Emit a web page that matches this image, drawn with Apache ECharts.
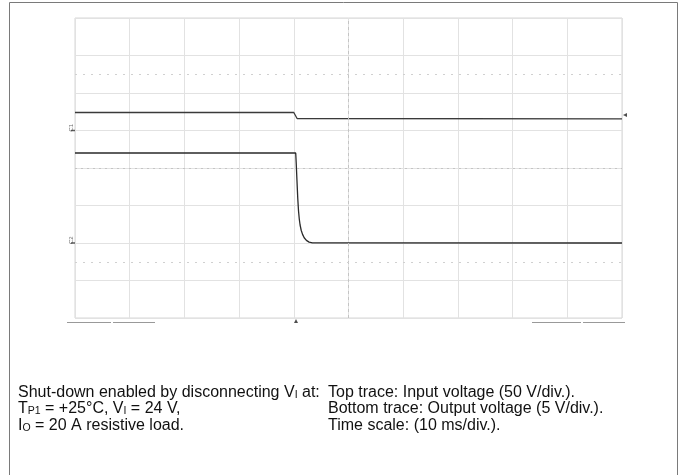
<!DOCTYPE html>
<html>
<head>
<meta charset="utf-8">
<script src="https://cdn.jsdelivr.net/npm/echarts@6/dist/echarts.min.js"></script>
<style>html,body{margin:0;padding:0;background:#fff}#c{width:685px;height:475px}</style>
</head>
<body>
<div id="c"></div>
<script>
// Time axis (ms relative to shut-down), 10 ms/div
const timeRange = [-40, 60];
const timeStep = 10;
// Top trace: input voltage (V), 50 V/div
const inTime = [-40, 0, 0.3, 0.6, 60];
const inVolt = [24, 24, 20, 16, 15.5];
// Bottom trace: output voltage (V), 5 V/div
const outTime = [-40, 0.35, 0.45, 0.58, 0.72, 0.86, 1.0, 1.15, 1.35, 1.6, 1.9, 2.3, 2.8, 3.4, 60];
const outVolt = [12, 12, 10.5, 8.3, 6.0, 4.3, 3.2, 2.4, 1.7, 1.15, 0.7, 0.35, 0.12, 0.03, 0];
// Axis ranges (V) per channel
const ch1Range = [-250, 150], ch1Step = 50;
const ch2Range = [-10, 30], ch2Step = 5;
// Markers
const triggerTime = 0.4;
const triggerLevel = 20.7;
const screenCentreTime = 10;
const screenCentreCh2 = 10;
const markerRowsCh2 = [22.5, -2.5];

const leftText = [
  'Shut-down enabled by disconnecting V{s|I} at:',
  'T{s|P1} = +25°C, V{s|I} = 24 V,',
  'I{s|O} = 20 A resistive load.'
];
const rightText = [
  'Top trace: Input voltage (50 V/div.).',
  'Bottom trace: Output voltage (5 V/div.).',
  'Time scale: (10 ms/div.).'
];

const zip = (a, b) => a.map((v, i) => [v, b[i]]);
const chart = echarts.init(document.getElementById('c'), null, {renderer: 'canvas'});
const FONT = 'Liberation Sans, Arial, sans-serif';
const textStyle = {
  fontFamily: FONT, fontSize: 16, lineHeight: 16.5, fill: '#111',
  rich: { s: { fontFamily: FONT, fontSize: 10.5, lineHeight: 16.5, verticalAlign: 'bottom', fill: '#111' } }
};
const hidden = { axisLabel: {show: false}, axisTick: {show: false}, axisLine: {show: false} };
const gridColor = '#e2e2e2';
const groundLabel = (txt) => ({show: true, formatter: txt, position: 'top', rotate: 90, fontSize: 6,
  color: '#444', offset: [-3, 1], fontFamily: FONT});

chart.setOption({
  animation: false,
  grid: { left: 75, top: 18, width: 547, height: 300, show: true, borderColor: '#d6d6d6', borderWidth: 1, backgroundColor: '#fff' },
  xAxis: Object.assign({ type: 'value', min: timeRange[0], max: timeRange[1], interval: timeStep,
    splitLine: {show: true, lineStyle: {color: gridColor, width: 1}} }, hidden),
  yAxis: [
    Object.assign({ type: 'value', min: ch1Range[0], max: ch1Range[1], interval: ch1Step,
      splitLine: {show: true, lineStyle: {color: gridColor, width: 1}} }, hidden),
    Object.assign({ type: 'value', min: ch2Range[0], max: ch2Range[1], interval: ch2Step,
      splitLine: {show: false} }, hidden)
  ],
  series: [
    {
      type: 'line', yAxisIndex: 1, data: [], silent: true,
      markLine: {
        symbol: 'none', silent: true, label: {show: false},
        data: [
          { xAxis: screenCentreTime, lineStyle: {color: '#c4c4c4', type: [3, 3], width: 1} },
          { yAxis: screenCentreCh2, lineStyle: {color: '#c4c4c4', type: [2, 4], width: 1} },
          { yAxis: markerRowsCh2[0], lineStyle: {color: '#d0d0d0', type: [2, 6], width: 1} },
          { yAxis: markerRowsCh2[1], lineStyle: {color: '#d0d0d0', type: [2, 6], width: 1} }
        ]
      }
    },
    {
      name: 'Input voltage', type: 'line', yAxisIndex: 0, data: zip(inTime, inVolt),
      showSymbol: false, lineStyle: {color: '#3a3a3a', width: 1.3}
    },
    {
      name: 'Output voltage', type: 'line', yAxisIndex: 1, data: zip(outTime, outVolt),
      showSymbol: false, lineStyle: {color: '#2a2a2a', width: 1.3}
    },
    {
      type: 'scatter', yAxisIndex: 0, clip: false, silent: true,
      data: [[timeRange[0], 0]], symbol: 'rect', symbolSize: [4, 1.5], symbolOffset: [-2, 0],
      itemStyle: {color: '#333'}, label: groundLabel('C1')
    },
    {
      type: 'scatter', yAxisIndex: 1, clip: false, silent: true,
      data: [[timeRange[0], 0]], symbol: 'rect', symbolSize: [4, 1.5], symbolOffset: [-2, 0],
      itemStyle: {color: '#333'}, label: groundLabel('C2')
    },
    {
      type: 'scatter', yAxisIndex: 1, clip: false, silent: true,
      data: [[triggerTime, ch2Range[0]]], symbol: 'triangle', symbolSize: 4, symbolOffset: [0, 3],
      itemStyle: {color: '#222'}
    },
    {
      type: 'scatter', yAxisIndex: 0, clip: false, silent: true,
      data: [[timeRange[1], triggerLevel]], symbol: 'triangle', symbolSize: 4, symbolRotate: 90, symbolOffset: [3, 0],
      itemStyle: {color: '#222'}
    }
  ],
  graphic: [
    { type: 'rect', silent: true, shape: {x: 9.5, y: 2.5, width: 668, height: 490},
      style: {fill: 'none', stroke: '#7a7a7a', lineWidth: 1} },
    { type: 'line', silent: true, shape: {x1: 67, y1: 322.5, x2: 111, y2: 322.5}, style: {stroke: '#999', lineWidth: 1} },
    { type: 'line', silent: true, shape: {x1: 113, y1: 322.5, x2: 155, y2: 322.5}, style: {stroke: '#999', lineWidth: 1} },
    { type: 'line', silent: true, shape: {x1: 532, y1: 322.5, x2: 581, y2: 322.5}, style: {stroke: '#999', lineWidth: 1} },
    { type: 'line', silent: true, shape: {x1: 583, y1: 322.5, x2: 625, y2: 322.5}, style: {stroke: '#999', lineWidth: 1} },
    { type: 'text', silent: true, left: 18, top: 384, style: Object.assign({text: leftText.join('\n')}, textStyle) },
    { type: 'text', silent: true, left: 328, top: 384, style: Object.assign({text: rightText.join('\n')}, textStyle) }
  ]
});
</script>
</body>
</html>
